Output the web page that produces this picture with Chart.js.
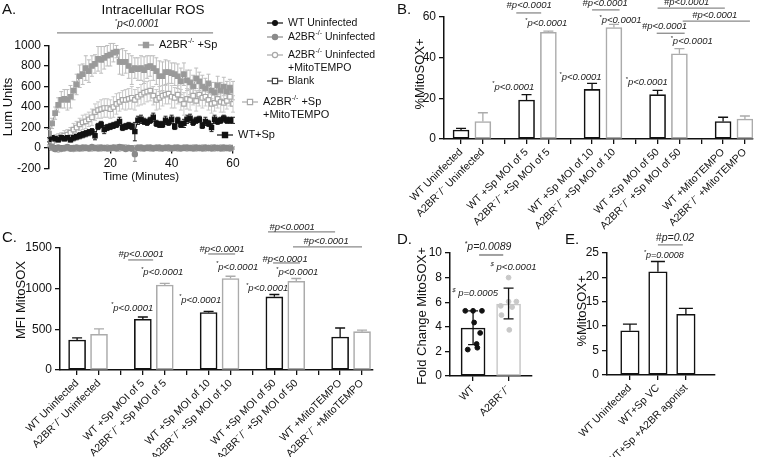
<!DOCTYPE html>
<html>
<head>
<meta charset="utf-8">
<script src="https://cdn.jsdelivr.net/npm/chart.js@4.4.1/dist/chart.umd.min.js"></script>
<style>
  body { margin: 0; background: #fff; width: 763px; height: 457px; overflow: hidden; position: relative; }
  canvas { position: absolute; }
</style>
</head>
<body>
<canvas id="chartA" width="380" height="200" style="left:0;top:0"></canvas>
<canvas id="chartB" width="383" height="232" style="left:380px;top:0"></canvas>
<canvas id="chartC" width="380" height="257" style="left:0;top:200px"></canvas>
<canvas id="chartD" width="160" height="227" style="left:380px;top:230px"></canvas>
<canvas id="chartE" width="223" height="227" style="left:540px;top:230px"></canvas>
<script>
// ---- data ----
// A. Intracellular ROS, one value per minute
const times = [0,1,2,3,4,5,6,7,8,9,10,11,12,13,14,15,16,17,18,19,20,21,22,23,24,25,26,27,28,29,30,
  31,32,33,34,35,36,37,38,39,40,41,42,43,44,45,46,47,48,49,50,51,52,53,54,55,56,57,58,59,60];
const a2brSp = [140,240,340,420,470,480,470,500,560,620,700,720,780,750,800,820,870,860,880,900,
  910,930,940,840,840,840,800,760,780,770,780,760,790,800,780,750,700,700,740,740,
  730,720,700,650,720,660,640,600,680,650,600,580,630,560,540,610,560,600,550,590,560];
const a2brSpSem = [40,50,60,70,80,90,100,110,90,100,110,100,120,110,100,90,120,130,110,100,
  110,90,60,120,130,110,120,140,100,110,120,130,110,100,120,130,150,140,120,110,
  100,110,120,130,110,100,120,110,100,90,110,100,90,80,100,90,80,90,100,80,90];
const a2brSpMito = [50,60,90,100,110,120,130,150,180,200,230,250,260,280,300,350,370,380,390,390,
  380,400,430,450,470,470,480,490,470,500,520,540,550,560,510,470,490,510,520,530,
  500,490,520,470,430,480,470,510,460,520,490,500,470,430,440,480,450,440,460,500,430];
const a2brSpMitoSem = [30,30,40,40,40,50,50,50,60,60,60,70,70,70,80,80,80,90,90,90,
  90,100,100,90,90,100,100,110,100,90,100,110,100,100,90,100,110,100,90,100,
  110,100,90,100,110,100,100,90,100,110,100,90,100,90,80,90,100,90,80,90,80];
const wtSp = [80,100,90,80,100,90,100,80,100,110,120,130,140,150,160,120,210,230,180,200,
  210,220,230,260,200,210,220,210,160,270,280,260,250,270,300,240,230,230,270,250,
  280,210,270,230,240,280,290,250,270,280,220,260,240,200,280,260,270,290,270,270,270];
const wtSpSem = [20,20,20,20,20,20,20,20,30,30,30,30,30,30,30,40,30,30,40,30,
  30,30,30,40,30,30,30,30,90,40,40,30,30,30,40,30,30,30,40,30,
  40,30,30,30,40,40,40,30,30,30,30,40,30,40,40,30,30,30,30,30,30];
const wtUninf = [10,5,0,2,-2,0,3,-1,0,2,-2,0,1,-1,3,0,-2,1,0,2,-1,0,1,-2,0,3,-1,0,1,-2,
  0,1,2,-1,0,-1,2,0,1,-2,0,1,-1,0,2,0,-1,1,0,-2,1,0,2,-1,0,1,-1,0,1,0,1];
const a2brUninf = [20,10,-10,5,-5,0,10,-5,0,5,-5,5,0,-5,10,0,-5,5,0,-5,
  0,5,-5,10,5,-10,0,-5,-60,0,5,-5,0,5,-5,0,5,-5,0,5,
  -5,0,5,-5,0,5,0,-5,5,0,-5,5,0,-5,5,0,-5,5,0,-5,0];
const a2brUninfSem = [10,10,10,10,10,10,10,10,10,10,10,10,10,10,10,10,10,10,10,10,
  10,10,10,20,10,10,10,10,70,10,10,10,10,10,10,10,10,10,10,10,
  10,10,10,10,10,10,10,10,10,10,10,10,10,10,10,10,10,10,10,10,10];
const a2brUninfMito = [30,0,-10,-15,-10,-5,0,-5,-10,-5,0,-5,5,0,-5,0,5,-5,0,5,
  -5,0,5,-5,0,5,0,-5,0,5,-5,0,5,-5,0,5,-5,0,5,-5,
  0,5,-5,0,5,-5,0,5,-5,0,5,-5,0,5,-5,0,5,-5,0,5,0];
const blank = [0,2,0,-2,0,1,0,-1,0,2,0,-1,0,1,0,-2,0,1,0,0,1,0,-1,0,2,0,-1,0,1,0,
  0,1,0,-1,0,2,0,-1,0,1,0,-1,0,1,0,0,1,0,-1,0,1,0,-1,0,1,0,0,-1,0,1,0];
const timeTicks = [20, 40, 60];

// B. %MitoSOX+ and C. MFI MitoSOX (empty names are the gaps between groups)
const groupCats = ['WT Uninfected', 'A2BR⁻/⁻ Uninfected', '',
  'WT +Sp MOI of 5', 'A2BR⁻/⁻ +Sp MOI of 5', '',
  'WT +Sp MOI of 10', 'A2BR⁻/⁻ +Sp MOI of 10', '',
  'WT +Sp MOI of 50', 'A2BR⁻/⁻ +Sp MOI of 50', '',
  'WT +MitoTEMPO', 'A2BR⁻/⁻ +MitoTEMPO'];
const bWT = [4.4, 19.2, 24.4, 21.8, 8.6];
const bWTTop = [5.2, 21.8, 27.4, 23.9, 10.7];
const bKO = [8.6, 52.5, 54.8, 41.9, 9.8];
const bKOTop = [12.9, 53.1, 56.4, 44.4, 11.3];
const cWT = [368, 622, 705, 897, 405];
const cWTTop = [394, 650, 720, 926, 515];
const cKO = [438, 1043, 1122, 1088, 470];
const cKOTop = [505, 1062, 1150, 1122, 488];

// D. Fold change MitoSOX+
const dCats = ['WT', 'A2BR⁻/⁻'];
const dMean = [3.9, 5.85];
const dSdTop = [5.3, 7.15];
const dSdBot = [2.55, 4.65];
const wtDots = [5.3, 5.3, 5.3, 4.35, 3.5, 2.6, 2.15, 2.3];
const koDots = [8.0, 6.05, 6.05, 5.7, 5.6, 4.95, 3.75];
const wtSpread = [-0.22, 0.0, 0.25, 0.03, 0.2, 0.1, -0.15, 0.12];
const koSpread = [0.0, 0.0, 0.22, -0.22, 0.1, -0.2, 0.02];

// E. %MitoSOX+ with agonist
const eCats = ['WT Uninfected', 'WT+Sp VC', 'WT+Sp +A2BR agonist'];
const eVals = [9.05, 21.1, 12.4];
const eTop = [10.4, 23.2, 13.6];

// ---- helpers ----
const FONT = '"Liberation Sans", Arial, Helvetica, sans-serif';
Chart.defaults.font.family = FONT;
Chart.defaults.color = '#111';
const INK = '#111';

// text with {superscript} parts
function rich(ctx, str, x, y, o) {
  const parts = [];
  str.split(/(\{[^}]*\})/).forEach(seg => {
    if (!seg) return;
    if (seg[0] === '{') parts.push({ t: seg.slice(1, -1), sup: true });
    else parts.push({ t: seg, sup: false });
  });
  const size = o.size || 11;
  const fontOf = sup => (o.italic ? 'italic ' : '') + (o.bold ? 'bold ' : '') +
    (sup ? Math.round(size * 0.62) : size) + 'px ' + FONT;
  let w = 0;
  parts.forEach(p => { ctx.font = fontOf(p.sup); p.w = ctx.measureText(p.t).width; w += p.w; });
  let cx = o.align === 'center' ? x - w / 2 : o.align === 'right' ? x - w : x;
  ctx.textAlign = 'left';
  ctx.textBaseline = 'middle';
  ctx.fillStyle = o.color || INK;
  parts.forEach(p => {
    ctx.font = fontOf(p.sup);
    ctx.fillText(p.t, cx, p.sup ? y - size * 0.33 : y);
    cx += p.w;
  });
}

function drawErr(chart, under) {
  const ctx = chart.ctx, ys = chart.scales.y;
  chart.data.datasets.forEach((ds, di) => {
    if (!ds.errTop || !!ds.errUnder !== under) return;
    const meta = chart.getDatasetMeta(di);
    ctx.save();
    ctx.strokeStyle = ds.errColor || INK;
    ctx.lineWidth = ds.errWidth || 1.3;
    meta.data.forEach((el, j) => {
      const top = ds.errTop[j];
      if (top == null) return;
      const bot = ds.errBot ? ds.errBot[j] : null;
      const yt = ys.getPixelForValue(top);
      const yb = bot == null ? el.y : ys.getPixelForValue(bot);
      const c = ds.capW || 3;
      ctx.beginPath();
      ctx.moveTo(el.x, yb); ctx.lineTo(el.x, yt);
      ctx.moveTo(el.x - c, yt); ctx.lineTo(el.x + c, yt);
      if (bot != null) { ctx.moveTo(el.x - c, yb); ctx.lineTo(el.x + c, yb); }
      ctx.stroke();
    });
    ctx.restore();
  });
}

const errPlugin = {
  id: 'errbars',
  beforeDatasetsDraw(chart) { drawErr(chart, true); },
  afterDatasetsDraw(chart) { drawErr(chart, false); }
};

// extra text and significance lines, in pixels or in data units
const notesPlugin = {
  id: 'notes',
  afterDraw(chart, args, opts) {
    const ctx = chart.ctx, xs = chart.scales.x, ys = chart.scales.y;
    (opts.lines || []).forEach(l => {
      ctx.save();
      ctx.strokeStyle = l.color || '#8a8a8a';
      ctx.lineWidth = l.w || 1.3;
      const y = ys.getPixelForValue(l.y);
      ctx.beginPath();
      ctx.moveTo(xs.getPixelForValue(l.x1), y);
      ctx.lineTo(xs.getPixelForValue(l.x2), y);
      ctx.stroke();
      ctx.restore();
    });
    (opts.texts || []).forEach(t => {
      const x = t.data ? xs.getPixelForValue(t.x) : t.x;
      const y = t.data ? ys.getPixelForValue(t.y) : t.y;
      ctx.save();
      ctx.translate(x, y);
      if (t.rot) ctx.rotate(t.rot);
      rich(ctx, t.s, 0, 0, t);
      ctx.restore();
    });
  }
};

function mark(ctx, shape, x, y, r, fill, stroke) {
  ctx.beginPath();
  if (shape === 'rect') ctx.rect(x - r, y - r, r * 2, r * 2);
  else ctx.arc(x, y, r, 0, Math.PI * 2);
  ctx.fillStyle = fill;
  ctx.fill();
  ctx.lineWidth = 1.2;
  ctx.strokeStyle = stroke;
  ctx.stroke();
}

// hand placed key for panel A
const keyPlugin = {
  id: 'keyA',
  afterDraw(chart, args, opts) {
    const ctx = chart.ctx;
    (opts.items || []).forEach(k => {
      ctx.save();
      ctx.strokeStyle = k.stroke;
      ctx.lineWidth = 1.2;
      ctx.beginPath();
      ctx.moveTo(k.x - 8, k.y); ctx.lineTo(k.x + 8, k.y);
      ctx.stroke();
      mark(ctx, k.shape, k.x, k.y, k.r, k.fill, k.stroke);
      k.lines.forEach((s, i) => rich(ctx, s, k.x + 13, k.y + i * 13, { size: k.size || 10.5 }));
      ctx.restore();
    });
  }
};

const axisGrid = { drawOnChartArea: false, tickLength: 5, color: INK, lineWidth: 1.3, offset: false };
const axisBorder = { color: INK, width: 1.5 };

function yAxis(min, max, step, width) {
  return {
    type: 'linear', min: min, max: max,
    ticks: { stepSize: step, font: { size: 12 }, color: INK, padding: 3, callback: v => String(v) },
    grid: axisGrid, border: axisBorder,
    afterFit: s => { s.width = width; }
  };
}

function xIndexAxis(cats, min, max, height) {
  return {
    type: 'linear', min: min, max: max, offset: false,
    afterBuildTicks: s => { s.ticks = cats.map((c, i) => ({ value: i })); },
    ticks: { autoSkip: false, minRotation: 45, maxRotation: 45, font: { size: 10.5 }, color: INK, padding: 2,
      callback: v => cats[v] },
    grid: axisGrid, border: axisBorder,
    afterFit: s => { s.height = height; }
  };
}

function pick(cats, prefix) {
  return cats.map((c, i) => c.startsWith(prefix) ? i : -1).filter(i => i >= 0);
}

function barSet(pos, vals, tops, color, width) {
  return {
    data: pos.map((p, i) => ({ x: p, y: vals[i] })),
    backgroundColor: '#fff', borderColor: color, borderWidth: 1.6, borderSkipped: false,
    barThickness: width, grouped: false,
    errTop: tops, errColor: color, capW: 5
  };
}

function pNote(s, x, y, size) {
  return { s: s, x: x, y: y, data: true, italic: true, size: size || 9.5, align: 'center', color: '#222' };
}
function sigLine(x1, x2, y) { return { x1: x1, x2: x2, y: y }; }

const baseOpts = {
  responsive: false,
  animation: false,
  events: []
};

// ---- A ----
function series(vals, sem, o) {
  const ds = Object.assign({
    data: times.map((t, i) => ({ x: t, y: vals[i] })),
    showLine: true, borderWidth: 1, pointBorderWidth: 1.2
  }, o);
  if (sem) {
    ds.errTop = vals.map((v, i) => v + sem[i]);
    ds.errBot = vals.map((v, i) => v - sem[i]);
    ds.errUnder = true;
    ds.capW = 2;
    ds.errWidth = 1;
  }
  return ds;
}

new Chart(document.getElementById('chartA'), {
  type: 'scatter',
  data: {
    datasets: [
      series(a2brUninf, a2brUninfSem, { borderColor: '#8a8a8a', pointBackgroundColor: '#8a8a8a', pointBorderColor: '#8a8a8a', pointRadius: 2.6, errColor: '#8a8a8a' }),
      series(a2brUninfMito, null, { borderColor: '#a8a8a8', pointBackgroundColor: '#fff', pointBorderColor: '#a8a8a8', pointRadius: 2.6 }),
      series(wtUninf, null, { borderColor: INK, pointBackgroundColor: INK, pointBorderColor: INK, pointRadius: 2 }),
      series(blank, null, { borderColor: '#444', pointBackgroundColor: '#fff', pointBorderColor: '#444', pointStyle: 'rect', pointRadius: 2.8 }),
      series(a2brSp, a2brSpSem, { borderColor: '#9a9a9a', pointBackgroundColor: '#9a9a9a', pointBorderColor: '#9a9a9a', pointStyle: 'rect', pointRadius: 3.2, errColor: '#bdbdbd' }),
      series(wtSp, wtSpSem, { borderColor: INK, pointBackgroundColor: INK, pointBorderColor: INK, pointStyle: 'rect', pointRadius: 3, errColor: '#222' }),
      series(a2brSpMito, a2brSpMitoSem, { borderColor: '#b4b4b4', pointBackgroundColor: '#fff', pointBorderColor: '#a8a8a8', pointStyle: 'rect', pointRadius: 3.2, errColor: '#c8c8c8' })
    ]
  },
  options: Object.assign({}, baseOpts, {
    layout: { autoPadding: false, padding: { left: 0, top: 45.5, right: 147, bottom: 31.5 } },
    scales: {
      x: {
        type: 'linear', min: 0, max: 60, position: { y: 0 },
        afterBuildTicks: s => { s.ticks = timeTicks.map(v => ({ value: v })); },
        afterFit: s => { s.height = 0; },
        ticks: { font: { size: 12 }, color: INK, padding: 3, maxRotation: 0 },
        grid: axisGrid, border: axisBorder
      },
      y: yAxis(-200, 1000, 200, 49)
    },
    plugins: {
      legend: { display: false }, tooltip: { enabled: false },
      notes: {
        texts: [
          { s: 'A.', x: 2, y: 10, size: 15 },
          { s: 'Intracellular ROS', x: 153, y: 10, size: 13.5, align: 'center' },
          pNote('{*}p<0.0001', 28.7, 1203, 10),
          { s: 'Time (Minutes)', x: 141, y: 177, size: 11.5, align: 'center' },
          { s: 'Lum Units', x: 8, y: 107, size: 13, align: 'center', rot: -Math.PI / 2 }
        ],
        lines: [sigLine(2.6, 53.5, 1124)]
      },
      keyA: {
        items: [
          { x: 275, y: 23, shape: 'circle', r: 2.4, fill: INK, stroke: INK, lines: ['WT Uninfected'] },
          { x: 275, y: 37, shape: 'circle', r: 2.6, fill: '#8a8a8a', stroke: '#8a8a8a', lines: ['A2BR{-/-} Uninfected'] },
          { x: 275, y: 55, shape: 'circle', r: 2.6, fill: '#fff', stroke: '#a8a8a8', lines: ['A2BR{-/-} Uninfected', '+MitoTEMPO'] },
          { x: 275, y: 81, shape: 'rect', r: 2.6, fill: '#fff', stroke: '#444', lines: ['Blank'] },
          { x: 146, y: 45, shape: 'rect', r: 2.6, fill: '#9a9a9a', stroke: '#9a9a9a', lines: ['A2BR{-/-} +Sp'], size: 11 },
          { x: 250, y: 102, shape: 'rect', r: 2.6, fill: '#fff', stroke: '#a8a8a8', lines: ['A2BR{-/-} +Sp', '+MitoTEMPO'], size: 11 },
          { x: 225, y: 135, shape: 'rect', r: 2.6, fill: INK, stroke: INK, lines: ['WT+Sp'], size: 11 }
        ]
      }
    }
  }),
  plugins: [errPlugin, notesPlugin, keyPlugin]
});

// ---- B ----
const wtPos = pick(groupCats, 'WT');
const koPos = pick(groupCats, 'A2BR');
const KO_GREY = '#ababab';

new Chart(document.getElementById('chartB'), {
  type: 'bar',
  data: { datasets: [barSet(wtPos, bWT, bWTTop, INK, 16), barSet(koPos, bKO, bKOTop, KO_GREY, 16)] },
  options: Object.assign({}, baseOpts, {
    layout: { autoPadding: false, padding: { left: 0, top: 17, right: 10, bottom: 0 } },
    scales: { x: xIndexAxis(groupCats, -0.78, 13.37, 93), y: yAxis(0, 60, 20, 64) },
    plugins: {
      legend: { display: false }, tooltip: { enabled: false },
      notes: {
        texts: [
          { s: 'B.', x: 17, y: 10, size: 15 },
          { s: '%MitoSOX+', x: 40, y: 74, size: 13, align: 'center', rot: -Math.PI / 2 },
          pNote('{*}p<0.0001', 2.39, 25.6), pNote('{*}p<0.0001', 3.9, 57),
          pNote('#p<0.0001', 3.12, 65.5),
          pNote('{*}p<0.0001', 5.47, 30.5), pNote('{*}p<0.0001', 7.3, 58.5),
          pNote('#p<0.0001', 6.6, 66.5),
          pNote('{*}p<0.0001', 8.5, 28), pNote('{*}p<0.0001', 10.56, 48.2),
          pNote('#p<0.0001', 9.32, 55.3),
          pNote('#p<0.0001', 10.33, 67.3),
          pNote('#p<0.0001', 11.62, 60.8)
        ],
        lines: [sigLine(2.53, 3.67, 62), sigLine(6.0, 7.26, 63.5), sigLine(8.96, 10.24, 52),
          sigLine(9.0, 12.08, 64.4), sigLine(10.15, 13.23, 58)]
      }
    }
  }),
  plugins: [errPlugin, notesPlugin]
});

// ---- C ----
new Chart(document.getElementById('chartC'), {
  type: 'bar',
  data: { datasets: [barSet(wtPos, cWT, cWTTop, INK, 17), barSet(koPos, cKO, cKOTop, KO_GREY, 17)] },
  options: Object.assign({}, baseOpts, {
    layout: { autoPadding: false, padding: { left: 0, top: 47.7, right: 7, bottom: 0 } },
    scales: { x: xIndexAxis(groupCats, -0.78, 13.5, 87), y: yAxis(0, 1500, 500, 60) },
    plugins: {
      legend: { display: false }, tooltip: { enabled: false },
      notes: {
        texts: [
          { s: 'C.', x: 2, y: 38, size: 15 },
          { s: 'MFI MitoSOX', x: 21, y: 100, size: 13, align: 'center', rot: -Math.PI / 2 },
          pNote('{*}p<0.0001', 2.51, 761), pNote('{*}p<0.0001', 3.88, 1202),
          pNote('#p<0.0001', 2.92, 1423),
          pNote('{*}p<0.0001', 5.61, 859), pNote('{*}p<0.0001', 7.3, 1264),
          pNote('#p<0.0001', 6.61, 1485),
          pNote('{*}p<0.0001', 8.67, 1006), pNote('{*}p<0.0001', 10.04, 1202),
          pNote('#p<0.0001', 9.49, 1362),
          pNote('#p<0.0001', 9.81, 1755),
          pNote('#p<0.0001', 11.36, 1583)
        ],
        lines: [sigLine(2.33, 3.47, 1350), sigLine(5.98, 7.21, 1423), sigLine(8.94, 10.17, 1313),
          sigLine(8.71, 11.77, 1693), sigLine(9.85, 13.0, 1509)]
      }
    }
  }),
  plugins: [errPlugin, notesPlugin]
});

// ---- D ----
const KO_LIGHT = '#c8c8c8';
new Chart(document.getElementById('chartD'), {
  type: 'bar',
  data: {
    datasets: [
      {
        type: 'scatter',
        data: wtDots.map((v, i) => ({ x: 0 + wtSpread[i], y: v })),
        pointRadius: 2.4, pointBackgroundColor: INK, pointBorderColor: INK
      },
      {
        type: 'scatter',
        data: koDots.map((v, i) => ({ x: 1 + koSpread[i], y: v })),
        pointRadius: 2.4, pointBackgroundColor: KO_LIGHT, pointBorderColor: KO_LIGHT
      },
      {
        data: dMean.map((v, i) => ({ x: i, y: v })),
        backgroundColor: '#fff', borderColor: [INK, KO_LIGHT], borderWidth: 1.6, borderSkipped: false,
        barThickness: 24, grouped: false
      },
      {
        type: 'scatter',
        data: dMean.map((v, i) => ({ x: i, y: v })),
        pointRadius: 0,
        errTop: dSdTop, errBot: dSdBot, errColor: INK, capW: 5
      }
    ]
  },
  options: Object.assign({}, baseOpts, {
    layout: { autoPadding: false, padding: { left: 0, top: 23, right: 8, bottom: 0 } },
    scales: { x: xIndexAxis(dCats, -0.65, 1.66, 81), y: yAxis(0, 10, 2, 70) },
    plugins: {
      legend: { display: false }, tooltip: { enabled: false },
      notes: {
        texts: [
          { s: 'D.', x: 17, y: 10, size: 15 },
          { s: 'Fold Change MitoSOX+', x: 42, y: 86, size: 13, align: 'center', rot: -Math.PI / 2 },
          pNote('{*}p=0.0089', 0.42, 10.45, 10.5),
          pNote('{$} p<0.0001', 1.14, 8.8),
          pNote('{$} p=0.0005', 0.06, 6.75)
        ],
        lines: [Object.assign(sigLine(0.17, 0.85, 9.84), { color: '#a0a0a0', w: 2 })]
      }
    }
  }),
  plugins: [errPlugin, notesPlugin]
});

// ---- E ----
new Chart(document.getElementById('chartE'), {
  type: 'bar',
  data: {
    datasets: [Object.assign(barSet([0, 1, 2], eVals, eTop, INK, 18.5), { capW: 7 })]
  },
  options: Object.assign({}, baseOpts, {
    layout: { autoPadding: false, padding: { left: 0, top: 22.7, right: 48, bottom: 0 } },
    scales: { x: xIndexAxis(eCats, -0.82, 3.04, 82), y: yAxis(0, 25, 5, 67) },
    plugins: {
      legend: { display: false }, tooltip: { enabled: false },
      notes: {
        texts: [
          { s: 'E.', x: 25, y: 10, size: 15 },
          { s: '%MitoSOX+', x: 42, y: 81, size: 13, align: 'center', rot: -Math.PI / 2 },
          pNote('#p=0.02', 1.61, 28.0, 10.5),
          pNote('{*}p=0.0008', 1.21, 24.5, 9)
        ],
        lines: [sigLine(1.0, 1.89, 26.6)]
      }
    }
  }),
  plugins: [errPlugin, notesPlugin]
});
</script>
</body>
</html>
